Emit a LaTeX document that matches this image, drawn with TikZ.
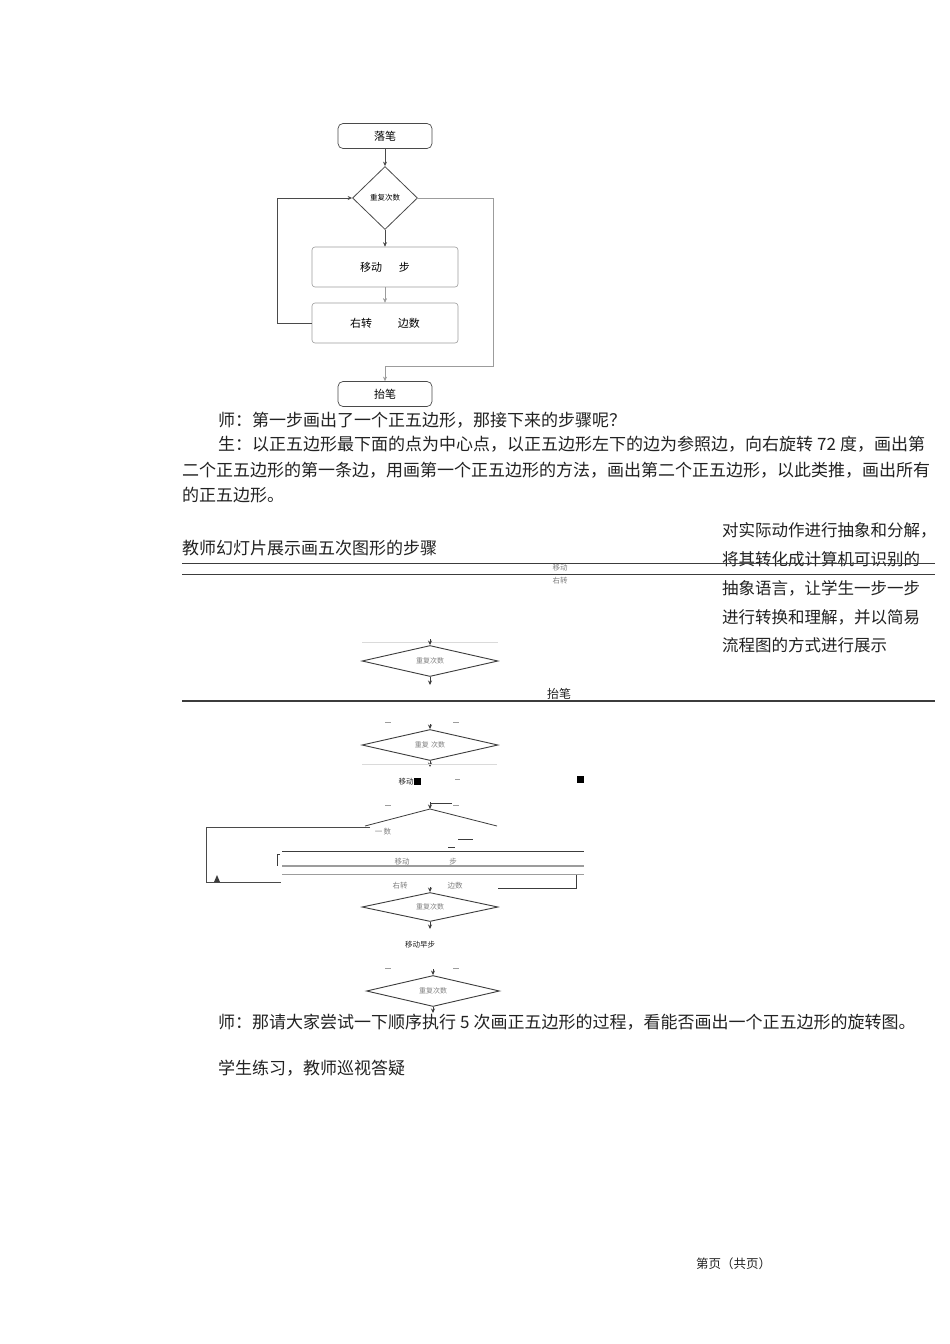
\documentclass[tikz,border=0pt]{standalone}
\usepackage{fontspec}
\setmainfont{Noto Sans CJK SC}
\usetikzlibrary{arrows.meta,positioning,shapes.geometric}
\XeTeXlinebreaklocale "zh"
\XeTeXlinebreakskip=0pt plus 2pt
\definecolor{inkgray}{HTML}{222222}
\definecolor{flowgray}{HTML}{4A4A4A}
\definecolor{boxgray}{HTML}{9C9C9C}
\definecolor{rulegray}{HTML}{3C3C3C}
\definecolor{faintgray}{HTML}{DADADA}

\begin{document}
\begin{tikzpicture}[x=1pt,y=-1pt,
  terminal/.style={draw=flowgray,rectangle,rounded corners=5pt,minimum width=94pt,minimum height=25pt,inner sep=0pt,font=\fontsize{11}{11}\selectfont,line width=0.7pt},
  stepbox/.style={draw=boxgray,rectangle,rounded corners=3pt,minimum width=146pt,minimum height=40pt,inner sep=0pt,font=\fontsize{11}{11}\selectfont,line width=0.6pt},
  decision/.style={draw=flowgray,diamond,aspect=1,minimum width=65pt,minimum height=63pt,inner sep=0pt,font=\fontsize{7.5}{8}\selectfont,line width=0.8pt},
  flatdec/.style={draw=rulegray,diamond,aspect=4,minimum width=136pt,minimum height=31pt,inner sep=0pt,font=\fontsize{7}{7}\selectfont,text=gray,line width=0.9pt},
  arr/.style={-{Stealth[length=4.5pt,width=4pt]},line width=0.7pt,draw=flowgray},
  para/.style={anchor=west,inner sep=0pt,text=inkgray,font=\fontsize{17}{17}\selectfont},
  note/.style={anchor=west,inner sep=0pt,text=inkgray,font=\fontsize{16.5}{17}\selectfont},
  tinytext/.style={inner sep=0pt,text=gray,font=\fontsize{7.5}{8}\selectfont},
  rule/.style={draw=rulegray,line width=1pt},
  scrap/.style={draw=rulegray,line width=0.8pt}
]
\useasboundingbox (0,0) rectangle (950,1344);
\fill[white] (0,0) rectangle (950,1344);

% Flowchart (top)
\node[terminal,text depth=-2pt] (pendown) at (385,136) {落笔};
\node[decision] (repeat) at (385,198) {重复次数};
\node[stepbox] (move) at (385,267) {移动\hspace{17pt}步};
\node[stepbox] (turn) at (385,323) {右转\hspace{26pt}边数};
\node[terminal,text depth=-2pt] (penup) at (385,394) {抬笔};
\coordinate (loopL) at (277,323);
\coordinate (exitR) at (493,366);

\draw[arr] (pendown) -- (repeat);
\draw[arr] (repeat) -- (move);
\draw[arr,draw=boxgray,line width=0.3pt] (move) -- (turn);
\draw[arr] (turn.west) -- (loopL) |- (repeat.west);
\draw[arr,draw=boxgray] (repeat.east) -| (exitR) -| (penup.north);

% Dialogue
\node[para] (askone) at (218,420) {师：第一步画出了一个正五边形，那接下来的步骤呢？};
\node[para] (reply1) at (218,444) {\makebox[717pt][s]{生：以正五边形最下面的点为中心点，以正五边形左下的边为参照边，向右旋转\hspace{4pt}72\hspace{4pt}度，画出第}};
\node[para] (reply2) at (182,470) {\makebox[753pt][s]{二个正五边形的第一条边，用画第一个正五边形的方法，画出第二个正五边形，以此类推，画出所有}};
\node[para] (reply3) at (182,495) {的正五边形。};

% Slides and side note
\node[para] (slides) at (182,548) {教师幻灯片展示画五次图形的步骤};
\node[note] (side1) at (722,530) {对实际动作进行抽象和分解，};
\node[note] (side2) at (722,559) {将其转化成计算机可识别的};
\node[note] (side3) at (722,588) {抽象语言，让学生一步一步};
\node[note] (side4) at (722,617) {进行转换和理解，并以简易};
\node[note] (side5) at (722,645) {流程图的方式进行展示};

\draw[rule] (182,563) -- (935,563);
\draw[rule] (182,574) -- (935,574);
\node[tinytext] (tagmove) at (560,568) {移动};
\node[tinytext] (tagturn) at (560,581) {右转};

% Broken flowchart (middle)
\draw[faintgray,line width=0.8pt] (362,642) -- (498,642);
\node[flatdec] (dec1) at (430,661) {重复次数};
\coordinate (dec1in) at (430,639);
\coordinate (dec1out) at (430,685);
\draw[arr,draw=rulegray] (dec1in) -- (dec1.north);
\draw[arr,draw=rulegray] (dec1.south) -- (dec1out);
\node[inner sep=0pt,text=inkgray,font=\fontsize{12}{12}\selectfont] (lift) at (559,694) {抬笔};
\draw[rule,line width=1.5pt] (182,701) -- (935,701);

\foreach \tx/\ty in {388/722,456/722,388/805,456/805,388/968,456/968}
  \draw[boxgray,line width=0.6pt] (\tx-3,\ty) -- (\tx+3,\ty);

\node[flatdec] (dec2) at (430,745) {重复\,\,次数};
\coordinate (dec2in) at (430,724);
\coordinate (dec2out) at (430,767);
\draw[arr,draw=rulegray] (dec2in) -- (dec2.north);
\draw[arr,draw=rulegray] (dec2.south) -- (dec2out);
\draw[faintgray,line width=0.8pt] (362,764) -- (497,764);
\node[tinytext,text=inkgray] (move2) at (406,782) {移动};
\fill[black] (414,778) rectangle (421,785);
\fill[black] (577,776) rectangle (584,783);
\draw[boxgray,line width=0.6pt] (455,779) -- (460,779);

\coordinate (dec3in) at (430,802);
\coordinate (apex) at (430,809);
\draw[scrap] (365,826) -- (apex) -- (497,826);
\draw[arr,draw=rulegray] (dec3in) -- (apex);
\draw[scrap] (430,803) -- (452,803);
\draw[draw=flowgray,line width=0.8pt] (370,827) -- (206,827) -- (206,882) -- (281,882);
\fill[rulegray] (214,882) -- (217,875) -- (220,882) -- cycle;
\node[tinytext] (frag1) at (383,832) {一\,数};
\draw[scrap] (458,839) -- (473,839);
\draw[scrap] (448,847) -- (455,847);
\draw[rulegray,line width=0.8pt] (282,851) -- (584,851);
\draw[boxgray,line width=1.6pt] (282,866) -- (584,866);
\draw[boxgray,line width=0.9pt] (282,874) -- (584,874);
\draw[rulegray,line width=1pt] (280,854) -- (277,854) -- (277,866);
\node[tinytext] (move3a) at (402,862) {移动};
\node[tinytext] (move3b) at (453,862) {步};
\node[tinytext] (turn3a) at (400,886) {右转};
\node[tinytext] (turn3b) at (455,886) {边数};
\draw[rulegray,line width=0.8pt] (498,888) -- (576,888) -- (576,875);

\node[flatdec,minimum height=29pt] (dec3) at (430,907) {重复次数};
\coordinate (dec3top) at (430,887);
\coordinate (dec3out) at (430,929);
\draw[arr,draw=rulegray] (dec3top) -- (dec3.north);
\draw[arr,draw=rulegray] (dec3.south) -- (dec3out);
\node[tinytext,text=inkgray] (move4) at (420,945) {移动早步};

\node[flatdec,minimum width=133pt] (dec4) at (433,991) {重复次数};
\coordinate (dec4in) at (433,969);
\coordinate (dec4out) at (433,1013);
\draw[arr,draw=rulegray] (dec4in) -- (dec4.north);
\draw[arr,draw=rulegray] (dec4.south) -- (dec4out);

% Closing lines
\node[para] (askfive) at (218,1022) {\makebox[715pt][s]{师：那请大家尝试一下顺序执行\hspace{4pt}5\hspace{4pt}次画正五边形的过程，看能否画出一个正五边形的旋转图。}};
\node[para] (practice) at (218,1068) {学生练习，教师巡视答疑};
\node[anchor=west,inner sep=0pt,text=inkgray,font=\fontsize{12.5}{13}\selectfont] (pageno) at (696,1264) {第页（共页）};

\end{tikzpicture}
\end{document}
